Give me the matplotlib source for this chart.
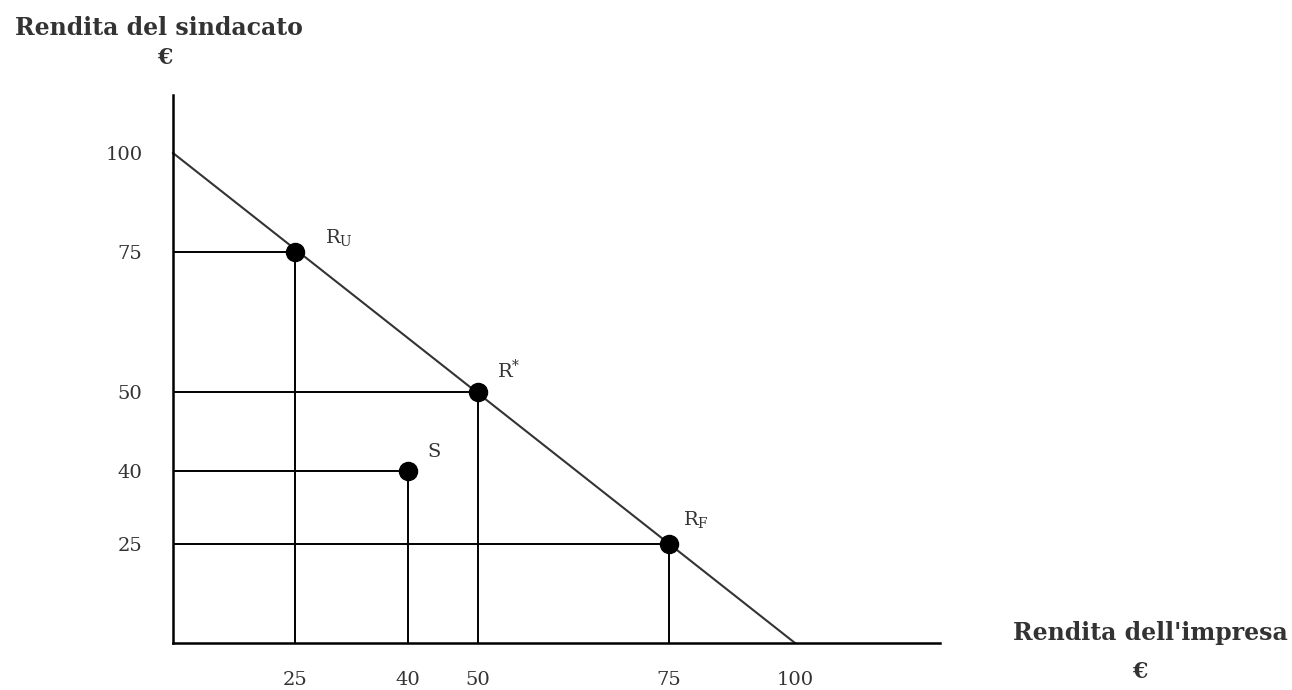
import numpy as np
import matplotlib
matplotlib.use('Agg')
from matplotlib import pyplot as plt

plt.rcParams['font.family'] = 'DejaVu Serif'
plt.rcParams['mathtext.fontset'] = 'dejavuserif'

# data
point_names = [r'R$_{\mathrm{U}}$', r'R$^{*}$', 'S', r'R$_{\mathrm{F}}$']
firm_vals = [25, 50, 40, 75]
union_vals = [75, 50, 40, 25]
frontier_x = [0, 100]
frontier_y = [100, 0]
x_ticks = [25, 40, 50, 75, 100]
y_ticks = [25, 40, 50, 75, 100]

# the drawing is schematic: axis spacing is not uniform
x_knots = [0, 25, 40, 50, 75, 100, 128.8]
x_pix = [0, 122, 235, 305, 496, 622, 767]
y_knots = [0, 25, 40, 50, 75, 100, 114.6]
y_pix = [0, 99, 172, 251, 391, 490, 548]


def fwd_x(v):
    return np.interp(v, x_knots, x_pix)


def inv_x(v):
    return np.interp(v, x_pix, x_knots)


def fwd_y(v):
    return np.interp(v, y_knots, y_pix)


def inv_y(v):
    return np.interp(v, y_pix, y_knots)


W, H = 1292, 690
fig = plt.figure(figsize=(W / 100, H / 100), dpi=100)
ax = fig.add_axes([173 / W, (H - 643) / H, (940 - 173) / W, (643 - 95) / H])
ax.set_xscale('function', functions=(fwd_x, inv_x))
ax.set_yscale('function', functions=(fwd_y, inv_y))
ax.set_xlim(0, x_knots[-1])
ax.set_ylim(0, y_knots[-1])

for s in ['top', 'right']:
    ax.spines[s].set_visible(False)
for s in ['left', 'bottom']:
    ax.spines[s].set_linewidth(1.8)

ax.plot(frontier_x, frontier_y, color='#333333', lw=1.5, clip_on=False)

for fx, uy in zip(firm_vals, union_vals):
    ax.plot([0, fx], [uy, uy], color='black', lw=1.4)
    ax.plot([fx, fx], [0, uy], color='black', lw=1.4)
ax.plot(firm_vals, union_vals, 'o', color='black', ms=13, zorder=5)

offsets = [(30, 14), (19, 22), (19, 19), (14, 24)]
for name, fx, uy, off in zip(point_names, firm_vals, union_vals, offsets):
    ax.annotate(name, (fx, uy), xytext=off, textcoords='offset pixels',
                ha='left', va='center', fontsize=14, color='#333333')

ax.set_xticks(x_ticks)
ax.set_xticklabels([str(t) for t in x_ticks])
ax.set_yticks(y_ticks)
ax.set_yticklabels([str(t) for t in y_ticks])
ax.minorticks_off()
ax.tick_params(length=0, labelsize=14, labelcolor='#333333')
ax.tick_params(axis='x', pad=20)
ax.tick_params(axis='y', pad=22)

fig.text(15 / W, 1 - 28 / H, 'Rendita del sindacato', fontsize=17,
         color='#333333', ha='left', va='center', fontweight='bold')
fig.text(165 / W, 1 - 58 / H, '€', fontsize=16, color='#333333',
         ha='center', va='center', fontweight='bold')
fig.text(1288 / W, 1 - 633 / H, "Rendita dell'impresa", fontsize=17,
         color='#333333', ha='right', va='center', fontweight='bold')
fig.text(1140 / W, 1 - 672 / H, '€', fontsize=16, color='#333333',
         ha='center', va='center', fontweight='bold')

fig.savefig('out.png', dpi=100)
